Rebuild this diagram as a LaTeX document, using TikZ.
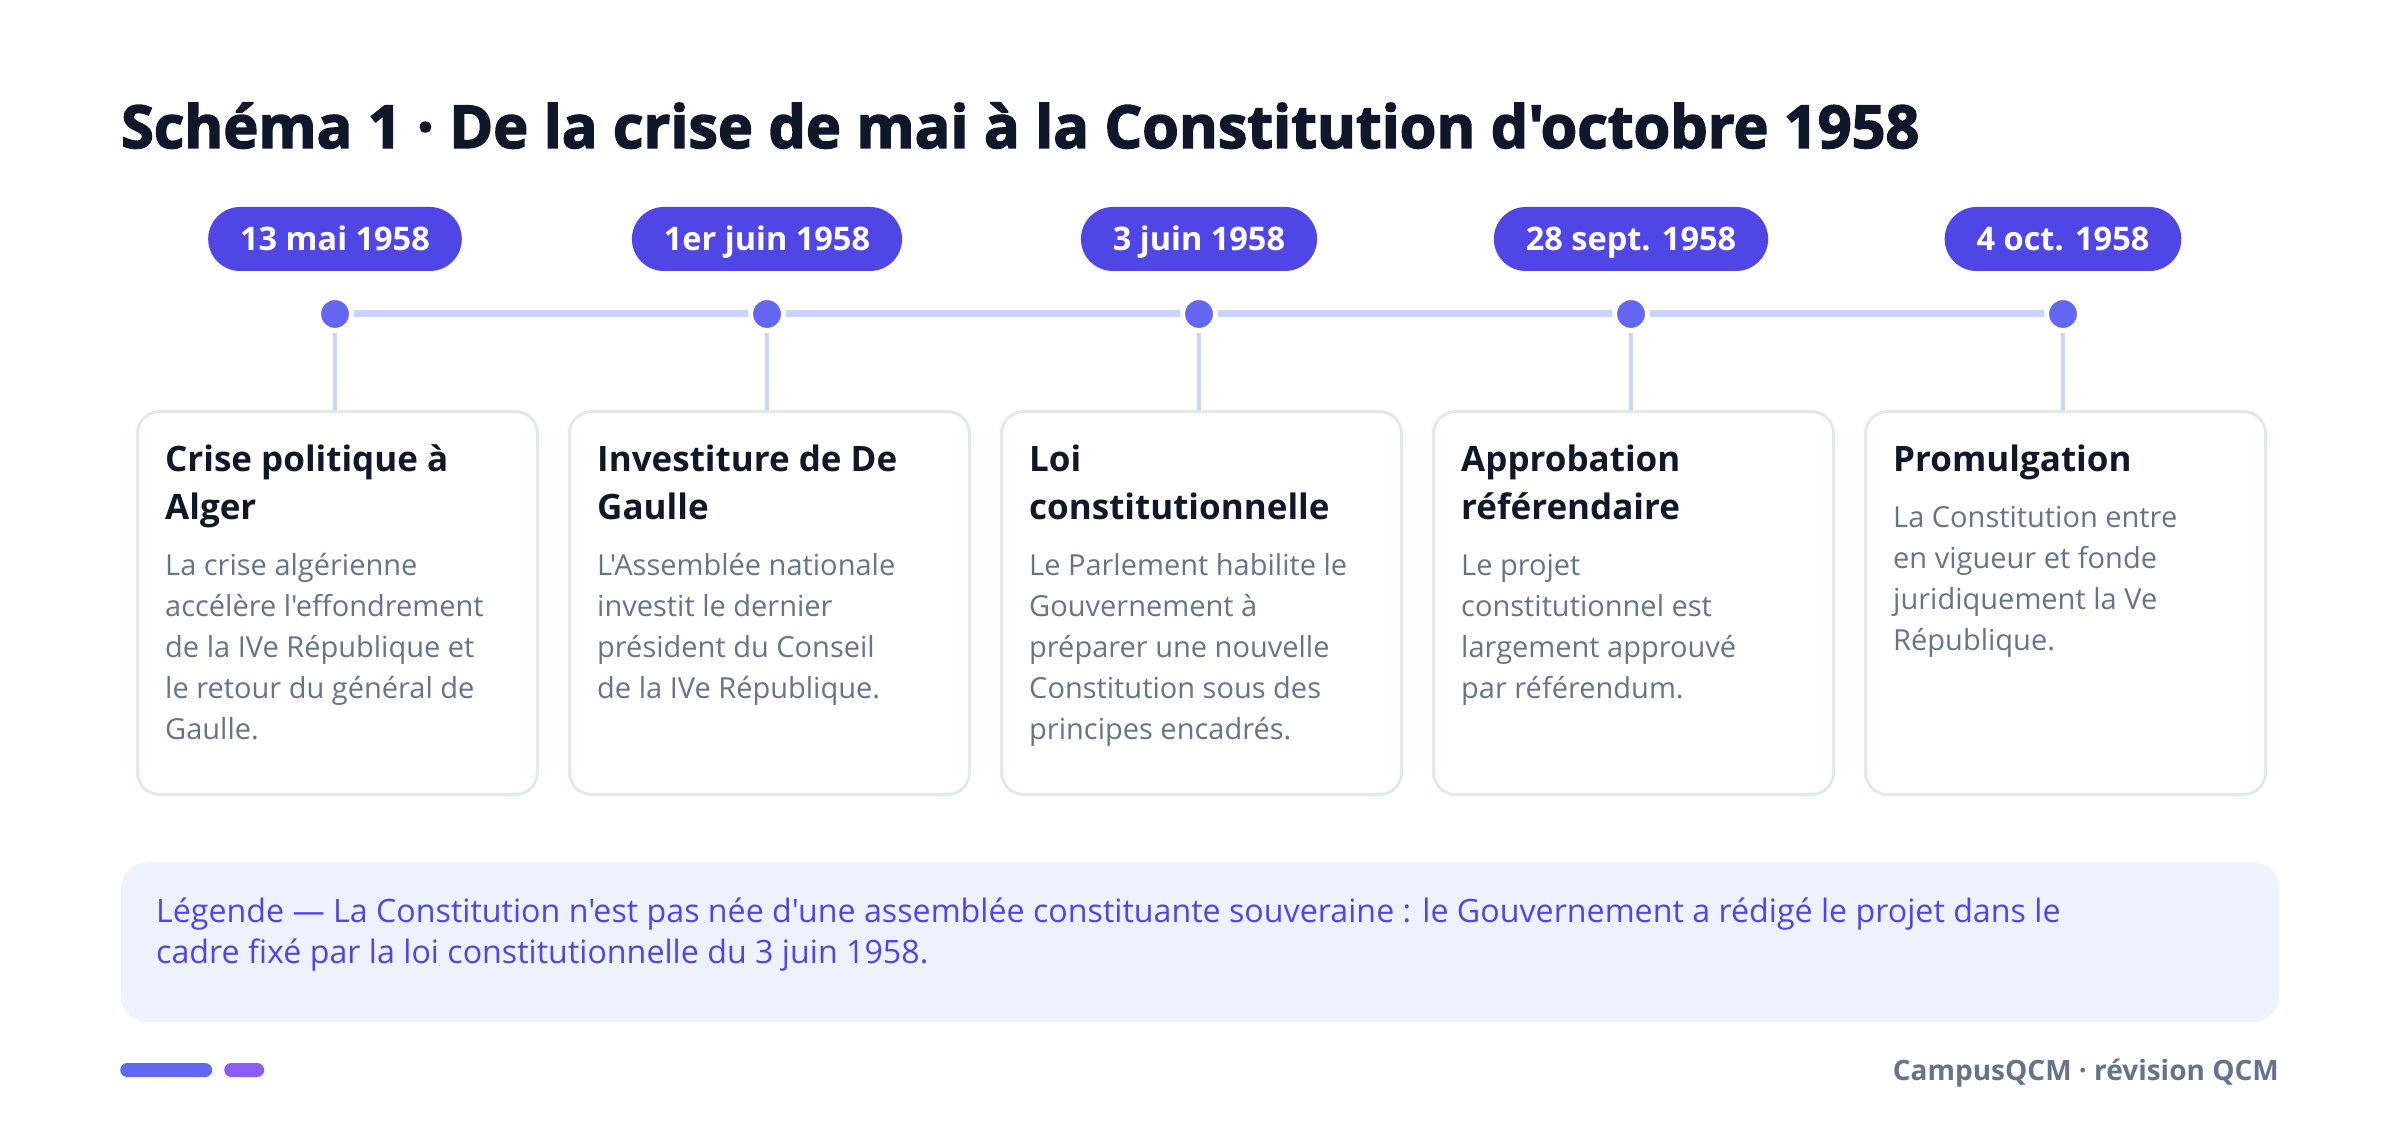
\documentclass[tikz,border=0pt]{standalone}
\usepackage{fontspec}
\setmainfont{Open Sans}[Ligatures=TeXOff]
\newfontfamily\heavyfont{Open Sans}[Ligatures=TeXOff,FakeBold=2.5]
\usetikzlibrary{positioning,calc}
\definecolor{ink}{HTML}{0F172A}
\definecolor{pillc}{HTML}{4F46E5}
\definecolor{dotc}{HTML}{6366F1}
\definecolor{linec}{HTML}{C7D2FE}
\definecolor{cardb}{HTML}{E2E8F0}
\definecolor{bodyc}{HTML}{64748B}
\definecolor{legf}{HTML}{EEF2FF}
\definecolor{purp}{HTML}{8B5CF6}
\newcommand\mylines[2]{\vtop{\baselineskip=#1pt\lineskiplimit=-100pt\lineskip=0pt\relax #2}}
\tikzset{
  datepill/.style={fill=pillc, text=white, rounded corners=32pt, minimum height=64pt, inner xsep=32pt, inner ysep=0pt, text height=23pt, text depth=0pt, font=\fontsize{32.5}{36}\selectfont\bfseries},
  tdot/.style={circle, fill=dotc, draw=white, line width=5pt, minimum size=33pt, inner sep=0pt},
  tline/.style={linec, line width=7pt},
  vline/.style={linec, line width=4pt},
  card/.style={draw=cardb, line width=3pt, fill=white, rounded corners=22pt, minimum width=400pt, minimum height=383pt, anchor=north west, inner sep=0pt},
  ctitle/.style={anchor=base west, inner sep=0pt, text=ink, font=\fontsize{35}{48}\selectfont\bfseries},
  cbody/.style={anchor=base west, inner sep=0pt, text=bodyc, font=\fontsize{29}{41}\selectfont},
}
\begin{document}
\begin{tikzpicture}[x=1pt,y=-1pt]
\useasboundingbox[fill=white] (0,0) rectangle (2400,1131);
% title
\node[anchor=base west, inner sep=0pt, text=ink, font=\heavyfont\bfseries\fontsize{59.3}{64}\selectfont] (title) at (121,148) {Schéma 1 · De la crise de mai à la Constitution d'octobre 1958};
% dots and pills
\foreach \x/\d [count=\i] in {335/13 mai 1958, 767/1er juin 1958, 1199/3 juin 1958, 1631/28 sept. 1958, 2063/4 oct. 1958}{
  \node[datepill] (p\i) at (\x,239) {\d};
  \coordinate (ct\i) at (\x,410);
}
\foreach \i/\j in {1/2,2/3,3/4,4/5}{
  \draw[tline] ($(p\i)+(0,75)$) -- ($(p\j)+(0,75)$);
}
\foreach \i in {1,...,5}{
  \node[tdot] (d\i) at ($(p\i)+(0,75)$) {};
  \draw[vline] (d\i.south) -- (ct\i);
}
% cards
\foreach \i in {1,...,5}{
  \node[card] (c\i) at (136+432*\i-432,410) {};
}
% card texts
\node[ctitle] (t1) at ($(c1.north west)+(29,61)$) {\mylines{48}{\hbox{Crise politique à}\hbox{Alger}}};
\node[cbody] (b1) at ($(c1.north west)+(29,165)$) {\mylines{41}{\hbox{La crise algérienne}\hbox{accélère l'effondrement}\hbox{de la IVe République et}\hbox{le retour du général de}\hbox{Gaulle.}}};
\node[ctitle] (t2) at ($(c2.north west)+(29,61)$) {\mylines{48}{\hbox{Investiture de De}\hbox{Gaulle}}};
\node[cbody] (b2) at ($(c2.north west)+(29,165)$) {\mylines{41}{\hbox{L'Assemblée nationale}\hbox{investit le dernier}\hbox{président du Conseil}\hbox{de la IVe République.}}};
\node[ctitle] (t3) at ($(c3.north west)+(29,61)$) {\mylines{48}{\hbox{Loi}\hbox{constitutionnelle}}};
\node[cbody] (b3) at ($(c3.north west)+(29,165)$) {\mylines{41}{\hbox{Le Parlement habilite le}\hbox{Gouvernement à}\hbox{préparer une nouvelle}\hbox{Constitution sous des}\hbox{principes encadrés.}}};
\node[ctitle] (t4) at ($(c4.north west)+(29,61)$) {\mylines{48}{\hbox{Approbation}\hbox{référendaire}}};
\node[cbody] (b4) at ($(c4.north west)+(29,165)$) {\mylines{41}{\hbox{Le projet}\hbox{constitutionnel est}\hbox{largement approuvé}\hbox{par référendum.}}};
\node[ctitle] (t5) at ($(c5.north west)+(29,61)$) {Promulgation};
\node[cbody] (b5) at ($(c5.north west)+(29,117)$) {\mylines{41}{\hbox{La Constitution entre}\hbox{en vigueur et fonde}\hbox{juridiquement la Ve}\hbox{République.}}};
% legend
\node[fill=legf, rounded corners=26pt, minimum width=2158pt, minimum height=160pt, anchor=north west, inner sep=0pt] (leg) at (121,862) {};
\node[anchor=base west, inner sep=0pt, text=pillc, font=\fontsize{32.2}{41}\selectfont] (legt) at (156,922) {\mylines{41}{\hbox{Légende — La Constitution n'est pas née d'une assemblée constituante souveraine : le Gouvernement a rédigé le projet dans le}\hbox{cadre fixé par la loi constitutionnelle du 3 juin 1958.}}};
% footer
\node[fill=dotc, rounded corners=7pt, minimum width=92pt, minimum height=14pt, inner sep=0pt, anchor=west] (bar1) at (120,1070) {};
\node[fill=purp, rounded corners=7pt, minimum width=40pt, minimum height=14pt, inner sep=0pt, anchor=west] (bar2) at (224,1070) {};
\node[anchor=base east, inner sep=0pt, text=bodyc, font=\fontsize{28}{30}\selectfont\bfseries] (foot) at (2279,1080) {CampusQCM · révision QCM};
\end{tikzpicture}
\end{document}
